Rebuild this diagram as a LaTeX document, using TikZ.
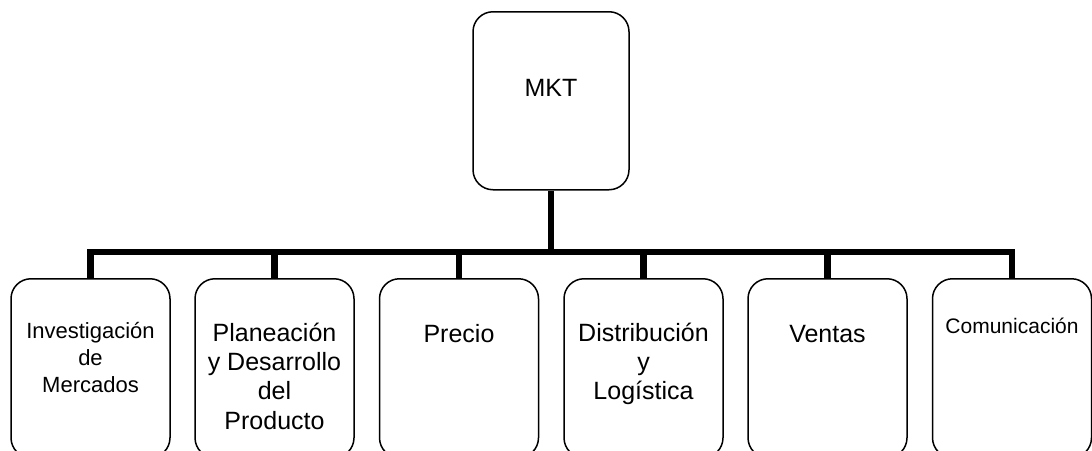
\documentclass[tikz,border=0pt]{standalone}
\usepackage{fontspec}
\setmainfont{Liberation Sans}
\begin{document}
\begin{tikzpicture}[x=1pt,y=-1pt,
  box/.style={draw, line width=1.5pt, rounded corners=20pt,
    minimum width=159pt, minimum height=179pt, inner sep=0pt, anchor=north},
  link/.style={line width=6.5pt, line join=miter, line cap=butt},
  lbl/.style={align=center, anchor=base, inner sep=0pt}]
\useasboundingbox (0,0) rectangle (1092,450);

% top unit
\node[box, minimum width=156pt, minimum height=178pt] (mkt) at (551,11) {};
\node[lbl, font=\fontsize{25}{29}\selectfont] (tmkt) at (551,96) {MKT};

% departments
\node[box] (b1) at (90.5,278) {};
\node[box] (b2) at (274.5,278) {};
\node[box] (b3) at (459,278) {};
\node[box] (b4) at (643.5,278) {};
\node[box] (b5) at (827.5,278) {};
\node[box] (b6) at (1012,278) {};

% labels, placed by the baseline of their last line
\node[lbl, font=\fontsize{22}{27}\selectfont] (t1) at (90.5,392) {Investigación\\de\\Mercados};
\node[lbl, font=\fontsize{25}{29.3}\selectfont] (t2) at (274.5,429) {Planeación\\y Desarrollo\\del\\Producto};
\node[lbl, font=\fontsize{25}{29}\selectfont] (t3) at (459,342) {Precio};
\node[lbl, font=\fontsize{25}{29}\selectfont] (t4) at (643.5,399) {Distribución\\y\\Logística};
\node[lbl, font=\fontsize{25}{29}\selectfont] (t5) at (827.5,342) {Ventas};
\node[lbl, font=\fontsize{21}{25}\selectfont] (t6) at (1012,333) {Comunicación};

% connectors
\coordinate (bus) at (551,252);
\draw[link] (mkt.south) -- (mkt.south |- bus);
\draw[link] (b1.north) -- (b1.north |- bus) -- (b6.north |- bus) -- (b6.north);
\foreach \i in {2,3,4,5}
  \draw[link] (b\i.north) -- (b\i.north |- bus);
\end{tikzpicture}
\end{document}
